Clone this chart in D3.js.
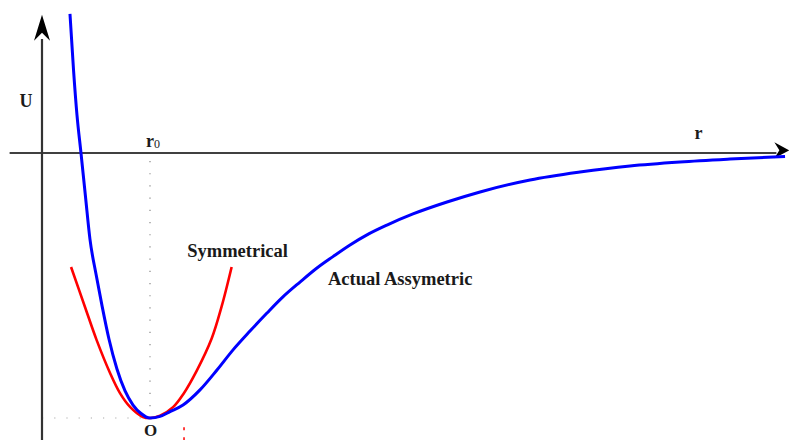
<!DOCTYPE html>
<html><head><meta charset="utf-8">
<script src="https://cdn.jsdelivr.net/npm/d3@7"></script>
<style>html,body{margin:0;padding:0;background:#fff;}svg{display:block;}</style>
</head><body>
<script>
// Data in units: r (r0 = 1), U (well depth = -1)
const actualR = [0.259,0.292,0.324,0.361,0.403,0.444,0.5,0.556,0.620,0.694,0.769,0.843,0.917,1.0,1.093,1.185,1.306,1.463,1.620,1.769,1.926,2.083,2.231,2.389,2.546,2.694,2.852,3.009,3.194,3.435,3.750,4.056,4.519,4.981,5.444,5.907,6.370,6.880];
const actualU = [0.525,0.313,0.143,0,-0.166,-0.325,-0.457,-0.577,-0.702,-0.815,-0.898,-0.951,-0.983,-1.0,-0.994,-0.976,-0.951,-0.894,-0.819,-0.743,-0.672,-0.604,-0.543,-0.487,-0.434,-0.391,-0.347,-0.309,-0.272,-0.230,-0.185,-0.147,-0.102,-0.072,-0.049,-0.034,-0.023,-0.013];
const symR = [0.269,0.398,0.506,0.630,0.722,0.815,0.935,1.009,1.093,1.216,1.308,1.432,1.571,1.664,1.756];
const symU = [-0.430,-0.581,-0.706,-0.830,-0.906,-0.958,-0.996,-1.0,-0.991,-0.958,-0.910,-0.822,-0.700,-0.578,-0.430];
const labels = {U:"U", r:"r", r0:"r", r0sub:"0", O:"O", sym:"Symmetrical", act:"Actual Assymetric"};

const W = 789, H = 440;
const x = d3.scaleLinear().domain([0,1]).range([42,150]);
const y = d3.scaleLinear().domain([0,-1]).range([153,418]);

const svg = d3.select("body").append("svg").attr("width",W).attr("height",H);

// dotted guide lines
svg.append("line").attr("x1",x(1)).attr("x2",x(1)).attr("y1",y(-0.03)).attr("y2",y(-1))
  .attr("stroke","#888").attr("stroke-width",1.2).attr("stroke-dasharray","1.2,11");
svg.append("line").attr("x1",x(0)).attr("x2",x(1)).attr("y1",y(-1)).attr("y2",y(-1))
  .attr("stroke","#aaa").attr("stroke-width",1.2).attr("stroke-dasharray","1.2,11");
// small red dashed tick
svg.append("line").attr("x1",x(1.315)).attr("x2",x(1.315)).attr("y1",y(-1.035)).attr("y2",y(-1.09))
  .attr("stroke","#f00").attr("stroke-width",1.5).attr("stroke-dasharray","3,7");

// axes
svg.append("line").attr("x1",x(-0.3)).attr("x2",x(6.8)).attr("y1",y(0)).attr("y2",y(0))
  .attr("stroke","#000").attr("stroke-width",1.5);
svg.append("line").attr("x1",x(0)).attr("x2",x(0)).attr("y1",y(-1.09)).attr("y2",y(0.43))
  .attr("stroke","#333").attr("stroke-width",2.2);
// arrow heads
const tipV = [x(0), y(0.522)];
svg.append("path").attr("d",`M${tipV[0]},${tipV[1]} L${tipV[0]+8},${tipV[1]+26} L${tipV[0]},${tipV[1]+18} L${tipV[0]-8},${tipV[1]+26} Z`).attr("fill","#000");
const tipH = [x(6.92), y(0.01)];
svg.append("path").attr("d",`M${tipH[0]},${tipH[1]} L${tipH[0]-15},${tipH[1]-8} L${tipH[0]-10},${tipH[1]} L${tipH[0]-15},${tipH[1]+8} Z`).attr("fill","#000");

const line = d3.line().x(d=>x(d[0])).y(d=>y(d[1])).curve(d3.curveMonotoneX);
const lineSym = d3.line().x(d=>x(d[0])).y(d=>y(d[1])).curve(d3.curveCatmullRom.alpha(0.5));
svg.append("path").datum(symR.map((r,i)=>[r,symU[i]])).attr("d",lineSym)
  .attr("fill","none").attr("stroke","#f00").attr("stroke-width",2.6);
svg.append("path").datum(actualR.map((r,i)=>[r,actualU[i]])).attr("d",line)
  .attr("fill","none").attr("stroke","#00f").attr("stroke-width",3);

// labels
const font = "'Liberation Serif','Times New Roman',serif";
function txt(t, px, py, size, anchor){
  return svg.append("text").attr("x",px).attr("y",py).attr("font-family",font)
    .attr("font-weight","bold").attr("font-size",size).attr("fill","#1a1a1a")
    .attr("text-anchor",anchor||"start").text(t);
}
txt(labels.U, x(-0.148), y(0.174), 18, "middle");
const r0t = txt(labels.r0, x(0.963), y(0.023), 18, "start");
r0t.append("tspan").attr("font-size",12).attr("font-weight","normal").attr("dy",1).text(labels.r0sub);
txt(labels.r, x(6.079), y(0.053), 18, "middle");
txt(labels.O, x(1.005), y(-1.068), 17, "middle");
txt(labels.sym, x(1.345), y(-0.392), 18.5, "start");
txt(labels.act, x(2.648), y(-0.498), 18.5, "start");
</script>
</body></html>
